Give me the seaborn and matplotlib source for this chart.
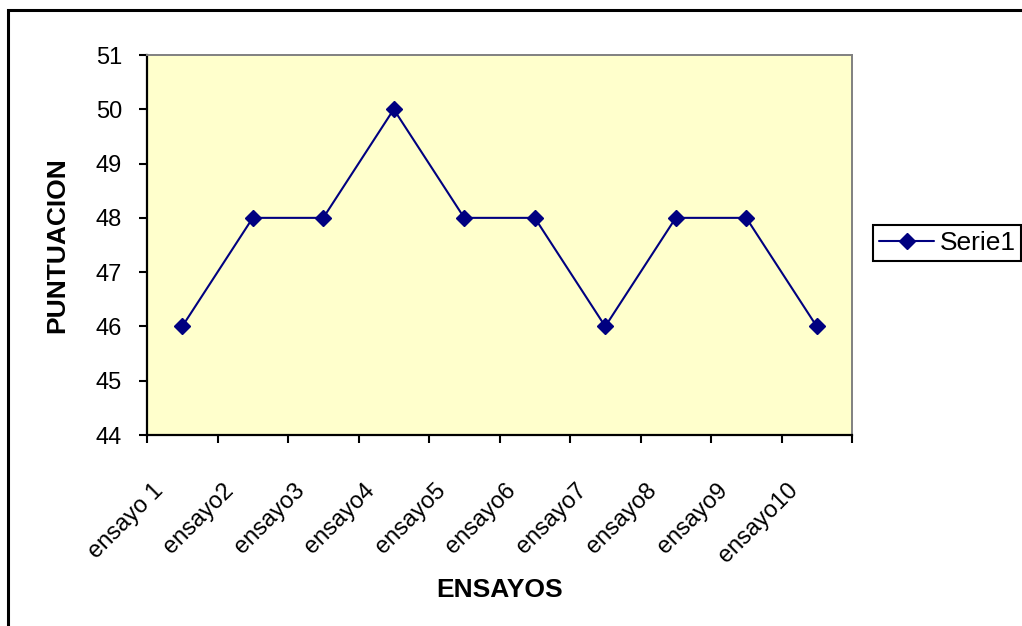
import matplotlib
matplotlib.use("Agg")
import matplotlib.pyplot as plt
import matplotlib.transforms as mtransforms
from matplotlib.patches import Rectangle
import numpy as np
import pandas as pd
import seaborn as sns

# Data
ensayos = ["ensayo 1", "ensayo2", "ensayo3", "ensayo4", "ensayo5",
           "ensayo6", "ensayo7", "ensayo8", "ensayo9", "ensayo10"]
puntuacion = [46, 48, 48, 50, 48, 48, 46, 48, 48, 46]
serie = "Serie1"
y_ticks = [44, 45, 46, 47, 48, 49, 50, 51]

sns.set_theme(style="white", rc={"text.color": "black",
                                 "axes.labelcolor": "black",
                                 "xtick.color": "black",
                                 "ytick.color": "black"})
plt.rcParams["font.family"] = ["Liberation Sans", "DejaVu Sans"]

df = pd.DataFrame({"pos": np.arange(len(ensayos)), "puntuacion": puntuacion})

W, H = 1022, 626
fig = plt.figure(figsize=(W / 100, H / 100), dpi=100)
fig.patch.set_facecolor("white")

ax = fig.add_axes([147 / W, 1 - 435 / H, (852 - 147) / W, (435 - 55) / H])
ax.set_facecolor("#FFFFCC")

navy = "#000080"
sns.lineplot(data=df, x="pos", y="puntuacion", ax=ax, color=navy,
             linewidth=1.5, marker="D", markersize=8,
             markeredgecolor=navy, markeredgewidth=1, label=serie)

ax.set_xlim(-0.5, len(ensayos) - 0.5)
ax.set_ylim(y_ticks[0], y_ticks[-1])
ax.set_yticks(y_ticks)

# Category boundaries carry the tick marks, centres carry the labels
ax.set_xticks(np.arange(len(ensayos) + 1) - 0.5)
ax.set_xticklabels([])
ax.set_xticks(np.arange(len(ensayos)), minor=True)
ax.set_xticklabels(ensayos, minor=True, rotation=45, ha="right",
                   va="center", rotation_mode="anchor", fontsize=17)
ax.tick_params(axis="x", which="minor", length=0, pad=0)
ax.tick_params(axis="x", which="major", direction="out", length=6,
               width=1.5, color="black", bottom=True)
ax.tick_params(axis="y", direction="out", length=6, width=1.5,
               color="black", left=True, labelsize=17, pad=12)

offset = mtransforms.ScaledTranslation(-22 / 100, -52 / 100, fig.dpi_scale_trans)
for lbl in ax.get_xticklabels(minor=True):
    lbl.set_transform(lbl.get_transform() + offset)

for side in ["left", "bottom"]:
    ax.spines[side].set_color("black")
    ax.spines[side].set_linewidth(1.6)
for side in ["top", "right"]:
    ax.spines[side].set_color("#808080")
    ax.spines[side].set_linewidth(1.4)

ax.set_xlabel("ENSAYOS", fontsize=19, fontweight="bold", labelpad=0)
ax.set_ylabel("PUNTUACION", fontsize=19, fontweight="bold", labelpad=0)
ax.xaxis.set_label_coords(0.5, -(590 - 435) / (435 - 55))
ax.yaxis.set_label_coords(-(147 - 57) / (852 - 147), 0.5)
ax.xaxis.label.set_va("center")
ax.yaxis.label.set_va("center")

leg = ax.legend(loc="upper left", bbox_to_anchor=(873 / W, 1 - 225 / H),
                bbox_transform=fig.transFigure, borderaxespad=0,
                fontsize=19, frameon=True, fancybox=False, framealpha=1,
                edgecolor="black", handlelength=2.1, handletextpad=0.2,
                borderpad=0.22)
leg.get_frame().set_linewidth(1.5)

# Chart-area border (left and top edges inside the canvas)
fig.patches.append(Rectangle((8 / W, -0.1), 1.2, 1.1 - 10 / H,
                             transform=fig.transFigure, fill=False,
                             edgecolor="black", linewidth=2.2, zorder=0))

fig.savefig("out.png", dpi=100)
